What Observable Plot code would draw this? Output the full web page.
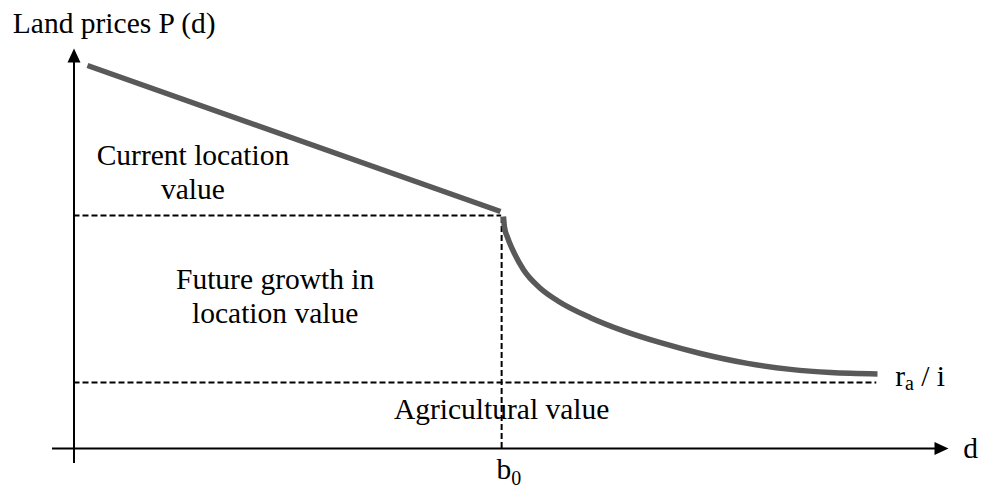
<!DOCTYPE html>
<html>
<head>
<meta charset="utf-8">
<script src="https://cdn.jsdelivr.net/npm/d3@7"></script>
<script src="https://cdn.jsdelivr.net/npm/@observablehq/plot@0.6"></script>
<style>
  html, body { margin: 0; padding: 0; background: #fff; }
  #chart svg { display: block; }
  #chart svg text { font-family: "Liberation Serif", "Times New Roman", serif; }
</style>
</head>
<body>
<div id="chart"></div>
<script>
// ---- Data (abstract units: distance d, land price P) ----
const b0 = 4.89;                 // boundary distance
const agValue = 1.65;            // r_a / i (agricultural value)
const priceAtB0 = 5.825;         // land price level at the boundary
const axisX = {x1: -0.246, x2: 10};
const axisY = {y1: -0.375, y2: 10};

// current location value segment (inside the city)
const urbanD = [0.154, 4.877];
const urbanP = [9.575, 5.925];

// beyond the boundary: future growth curve
const fringeD = [4.911, 4.923, 4.957, 5.014, 5.140, 5.335, 5.529, 5.906, 6.284, 6.707, 7.164, 7.701, 8.193, 8.651, 9.188];
const fringeP = [5.8, 5.525, 5.278, 4.978, 4.469, 4.001, 3.695, 3.271, 2.941, 2.645, 2.375, 2.128, 1.978, 1.898, 1.863];
const agLineEnd = 9.18;

// labels
const labelText = ["Current location\nvalue", "Future growth in\nlocation value", "Agricultural value"];
const labelD = [1.36, 2.30, b0];
const labelP = [6.94, 3.84, 1.01];

const titleText = "Land prices P (d)";
const xAxisLabel = "d";
const b0Label = "b0";
const agLabel = "ra / i";

// ---- Build tables ----
const urban = urbanD.map((d, i) => ({d, P: urbanP[i]}));
const fringe = fringeD.map((d, i) => ({d, P: fringeP[i]}));
const labels = labelText.map((t, i) => ({t, d: labelD[i], P: labelP[i]}));

const arrowHead = {
  draw(ctx) {
    ctx.moveTo(0, 0);
    ctx.lineTo(-6.5, 14);
    ctx.lineTo(6.5, 14);
    ctx.closePath();
  }
};

const font = "'Liberation Serif', 'Times New Roman', serif";
const fs = 29.5;
const lineColor = "#595959";
const dash = {stroke: "#000", strokeWidth: 2, strokeDasharray: "6,3"};
const txt = {fontSize: fs, fontFamily: font, fill: "#000"};

const chart = Plot.plot({
  width: 981,
  height: 494,
  x: {domain: [0, 10], range: [73.5, 948], axis: null},
  y: {domain: [0, 10], range: [448, 48], axis: null},
  style: {fontFamily: font, background: "#fff"},
  marks: [
    // dashed guide lines
    Plot.ruleY([priceAtB0], {x1: 0, x2: b0, ...dash}),
    Plot.ruleX([b0], {y1: 0, y2: priceAtB0, ...dash}),
    Plot.ruleY([agValue], {x1: 0, x2: agLineEnd, ...dash}),
    // axes
    Plot.ruleX([0], {y1: axisY.y1, y2: axisY.y2 - 0.2, stroke: "#000", strokeWidth: 2}),
    Plot.ruleY([0], {x1: axisX.x1, x2: axisX.x2 - 0.1, stroke: "#000", strokeWidth: 2}),
    Plot.dot([{d: 0, P: axisY.y2}], {x: "d", y: "P", symbol: arrowHead, fill: "#000", stroke: null, r: 7}),
    Plot.dot([{d: axisX.x2, P: 0}], {x: "d", y: "P", symbol: arrowHead, fill: "#000", stroke: null, r: 7, rotate: 90}),
    // price curves
    Plot.line(urban, {x: "d", y: "P", stroke: lineColor, strokeWidth: 5.5, strokeLinecap: "butt"}),
    Plot.line(fringe, {x: "d", y: "P", stroke: lineColor, strokeWidth: 5.5, strokeLinecap: "butt", curve: "monotone-x"}),
    // labels
    Plot.text(labels, {x: "d", y: "P", text: "t", lineHeight: 1.15, textAnchor: "middle", ...txt}),
    Plot.text([titleText], {x: -0.70, y: 10.635, text: d => d, textAnchor: "start", ...txt}),
    Plot.text([xAxisLabel], {x: 10.17, y: 0.01, text: d => d, textAnchor: "start", ...txt}),
    Plot.text([b0Label], {x: 4.83, y: -0.515, text: d => d, textAnchor: "start", className: "sub-b0", ...txt}),
    Plot.text([agLabel], {x: 9.39, y: 1.81, text: d => d, textAnchor: "start", className: "sub-ra", ...txt})
  ]
});

// subscripts
chart.querySelectorAll(".sub-b0 text").forEach(t => {
  t.textContent = "b";
  const s = document.createElementNS("http://www.w3.org/2000/svg", "tspan");
  s.setAttribute("dy", "6");
  s.setAttribute("font-size", "20");
  s.textContent = "0";
  t.appendChild(s);
});
chart.querySelectorAll(".sub-ra text").forEach(t => {
  t.textContent = "r";
  const s = document.createElementNS("http://www.w3.org/2000/svg", "tspan");
  s.setAttribute("dy", "4");
  s.setAttribute("font-size", "20");
  s.textContent = "a";
  t.appendChild(s);
  const r = document.createElementNS("http://www.w3.org/2000/svg", "tspan");
  r.setAttribute("dy", "-4");
  r.textContent = " / i";
  t.appendChild(r);
});

document.getElementById("chart").appendChild(chart);
</script>
</body>
</html>
